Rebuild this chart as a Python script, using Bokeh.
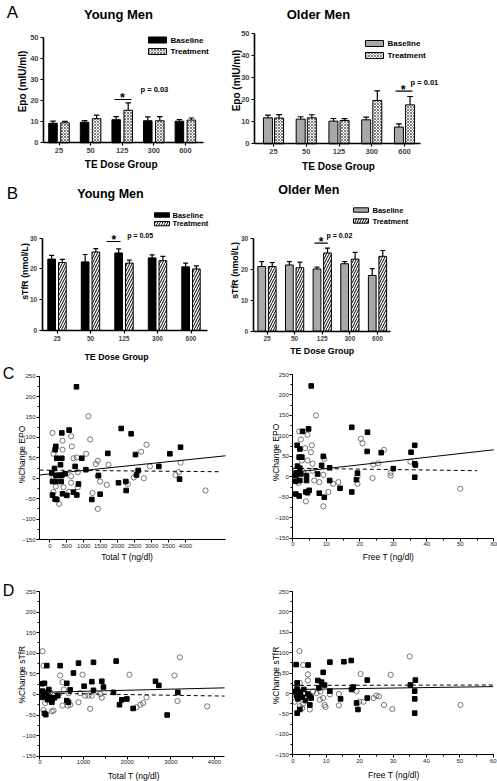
import numpy as np
from bokeh.plotting import figure
from bokeh.layouts import column, row
from bokeh.models import Range1d, FixedTicker, Label
from bokeh.embed import file_html
from bokeh.resources import INLINE

FONT = "Liberation Sans"

# ---------------- data ----------------
doses = ["25", "50", "125", "300", "600"]

epo_young_base = [9.3, 9.8, 11.0, 10.5, 10.3]
epo_young_base_err = [1.0, 0.8, 1.5, 1.8, 0.8]
epo_young_trt = [9.5, 11.5, 15.5, 10.5, 10.8]
epo_young_trt_err = [0.7, 1.7, 3.5, 2.0, 1.0]

epo_old_base = [11.8, 11.2, 10.3, 10.9, 7.6]
epo_old_base_err = [1.2, 1.1, 1.2, 1.2, 1.5]
epo_old_trt = [11.7, 11.8, 10.6, 19.7, 17.7]
epo_old_trt_err = [1.6, 1.4, 0.8, 4.4, 3.8]

stfr_young_base = [23.2, 22.3, 25.2, 23.6, 20.7]
stfr_young_base_err = [1.2, 2.4, 1.3, 1.0, 1.2]
stfr_young_trt = [22.1, 25.5, 21.9, 22.7, 20.0]
stfr_young_trt_err = [1.0, 1.1, 1.0, 1.4, 1.0]

stfr_old_base = [21.0, 21.5, 20.2, 21.9, 18.1]
stfr_old_base_err = [1.6, 1.1, 0.6, 0.7, 2.2]
stfr_old_trt = [21.0, 20.6, 25.4, 23.4, 24.3]
stfr_old_trt_err = [1.3, 1.8, 1.6, 2.2, 1.9]

# C: %change EPO vs Total T
ce_tot_sq_x = [786, 570, 354, 177, 157, 206, 354, 944, 1710, 315, 747, 138, 1062, 59, 177, 275, 354, 452, 1435,
               79, 177, 334, 845, 2025, 2241, 2251, 79, 157, 206, 374, 501, 698, 796, 1484, 1239, 2104, 2398,
               2526, 2605, 2556, 3214, 3539, 3853, 3824]
ce_tot_sq_y = [224, 118, 111, 78, 70, 49, 49, 49, 61, 33, 29, 24, 21, 13, 7, 7, 7, 11, 7,
               -8, -8, -8, -14, -11, -8, -30, -41, -51, -52, -38, -42, -34, -41, -39, -52, 122, 109,
               58, 19, 8, 29, 60, 76, -2]
ce_tot_ci_x = [79, 374, 629, 1140, 1189, 374, 649, 108, 698, 796, 1071, 1416, 1357, 1730, 826, 629, 1416, 108,
               629, 1484, 1681, 177, 403, 826, 108, 570, 1258, 275, 1416, 2851, 2693, 2949, 2477, 2772, 2300,
               3706, 3804, 3853, 4590]
ce_tot_ci_y = [111, 92, 103, 152, 95, 70, 78, 60, 49, 51, 60, 43, 35, 33, 15, 5, 5, 2,
               -11, -8, -16, -20, -22, -22, -34, -33, -36, -63, -75, 82, 65, 29, 2, 0, -14,
               8, 15, 38, -30]
ce_tot_fit_x = [-300, 5180]
ce_tot_fit_y = [8, 55]
ce_tot_fit2_x = [-300, 5030]
ce_tot_fit2_y = [20, 16]

# C: %change EPO vs Free T
ce_free_sq_x = [5.5, 4.7, 2.9, 1.3, 2.1, 1.9, 2.7, 9.1, 8.6, 11.0, 1.4, 2.1, 1.1, 2.4, 4.1, 7.4, 0.9, 2.1, 4.1,
                0.9, 11.0, 14.1, 4.9, 4.4, 3.9, 0.9, 1.9, 7.9, 9.4, 17.6, 17.6, 22.2, 22.3, 19.3, 19.0, 26.4,
                30.0, 35.3, 36.4, 36.4, 36.6, 36.4]
ce_free_sq_y = [222, 117, 111, 77, 68, 48, 48, 50, 28, 22, 26, 21, 10, 7, 3, 7, 3, -9, -9,
                -11, -9, -28, -33, -39, -37, -42, -47, -40, -50, -37, 121, 62, 109, 9, -7, 59,
                20, 60, 77, 32, 29, -1]
ce_free_ci_x = [6.9, 1.9, 4.4, 2.4, 3.7, 5.4, 5.7, 2.7, 4.4, 9.4, 5.9, 0.9, 3.1, 5.9, 9.1, 6.4, 7.9, 1.7,
                12.0, 13.6, 10.6, 3.9, 9.1, 20.3, 20.8, 23.8, 19.3, 19.3, 27.2, 24.0, 25.5, 29.2, 29.2,
                35.1, 50.0]
ce_free_ci_y = [150, 111, 103, 91, 70, 60, 77, 40, 40, 44, 32, 15, 13, 15, 5, -9, -13, -15,
                -17, -13, -37, -60, -72, 93, 82, -3, 1, -17, 66, 30, 33, 10, 3,
                37, -29]
ce_free_fit_x = [0, 60]
ce_free_fit_y = [11, 66]
ce_free_fit2_x = [0, 55]
ce_free_fit2_y = [21, 15]

# D: %change sTfR vs Total T
ds_tot_sq_x = [160, 466, 886, 1229, 1748, 771, 618, 1015, 1191, 1420, 1458, 46, 107, 695, 1229, 1687, 1878,
               1825, 1993, 107, 137, 618, 656, 61, 107, 160, 237, 275, 275, 61, 336, 183, 412, 2137, 2649,
               2726, 2916, 3160, 76, 206]
ds_tot_sq_y = [70, 70, 76, 78, 81, 52, 27, 20, 31, 32, 18, 26, 27, 11, 10, 5, -13,
               -25, -11, -46, -49, -15, -19, 8, 1, -3, -7, -13, -19, -7, -8, -13, -3, -34, 32,
               22, -50, 5, 5, 12]
ds_tot_ci_x = [61, 84, 466, 977, 519, 656, 924, 1038, 1115, 1191, 1382, 1420, 886, 1153, 519, 641, 695, 122,
               84, 275, 313, 183, 237, 2053, 2214, 2305, 2366, 2443, 3084, 3153, 3206, 3832, 550, 440]
ds_tot_ci_y = [105, 70, 46, 48, 30, 3, 3, -3, -3, -3, 1, -8, -19, -35, -27, -27, -25, -21,
               -38, -41, -39, 8, 5, 48, -31, -25, -21, -7, 46, -16, 90, -29, 12, 1]
ds_tot_fit_x = [0, 4230]
ds_tot_fit_y = [5, 16]
ds_tot_fit2_x = [0, 4230]
ds_tot_fit2_y = [3, -4]

# D: %change sTfR vs Free T
ds_free_sq_x = [1.0, 4.6, 11.1, 15.3, 17.5, 9.1, 7.5, 8.6, 9.5, 22.3, 7.8, 11.1, 17.6, 18.1, 35.2, 36.7, 36.5,
                36.5, 36.5, 14.3, 19.1, 19.5, 22.3, 5.1, 1.3, 2.1, 1.3, 1.3, 1.8, 2.3, 2.8, 1.1, 3.3, 4.5,
                5.1, 5.5, 3.8, 0.6, 1.5]
ds_free_sq_y = [71, 70, 77, 78, 81, 52, 32, 28, 21, 33, 14, 6, 10, 16, 21, 33, 6,
                -13, -48, -13, -23, -39, -11, -28, -48, -39, 26, 11, 3, -3, -9, -5, 10, -1,
                -7, -11, -17, 5, -13]
ds_free_ci_x = [2.0, 3.1, 4.5, 4.5, 2.1, 7.1, 8.3, 8.1, 9.1, 9.5, 9.8, 11.1, 13.8, 13.8, 5.1, 2.8, 2.1, 0.6,
                3.1, 6.1, 20.3, 19.1, 19.9, 21.2, 24.2, 25.0, 25.8, 27.3, 29.3, 29.8, 35.0, 50.2]
ds_free_ci_y = [104, 70, 47, 32, 26, 1, 5, -15, -11, -28, -33, -2, -1, -29, -39, -36, -31, -20,
                -25, 5, 48, 6, -20, -20, -11, -5, -7, -28, 46, -38, 91, -28]
ds_free_fit_x = [0, 60]
ds_free_fit_y = [10, 17]
ds_free_fit2_x = [0, 60]
ds_free_fit2_y = [20, 21]


# ---------------- helpers ----------------
def panel(box, axx, axy, xa, ya):
    """Frame covers the whole figure; both axes pinned at their positions."""
    x0, y0, x1, y1 = box

    def fx(px):
        return xa[1] + (px - xa[0]) * (xa[3] - xa[1]) / (xa[2] - xa[0])

    def fy(py):
        return ya[1] + (py - ya[0]) * (ya[3] - ya[1]) / (ya[2] - ya[0])

    p = figure(width=x1 - x0, height=y1 - y0, output_backend="svg", toolbar_location=None,
               x_range=Range1d(fx(x0), fx(x1)), y_range=Range1d(fy(y1), fy(y0)),
               min_border_left=0, min_border_right=0, min_border_top=0, min_border_bottom=0)
    p.outline_line_color = None
    p.grid.visible = False
    p.background_fill_color = "white"
    p.border_fill_color = "white"
    p.yaxis[0].fixed_location = fx(axx)
    p.xaxis[0].fixed_location = fy(axy)
    return p, fx, fy, fx(axx)


def txt(p, x, y, s, size, bold=False, align="left", baseline="middle", angle=0.0):
    p.add_layout(Label(x=x, y=y, text=s, text_font=FONT, text_font_size=f"{size}px",
                       text_font_style="bold" if bold else "normal", text_align=align,
                       text_baseline=baseline, text_color="black", angle=angle))


def titles(p, fx, fy, xt, yt, xlabel, ylabel, size, bold):
    txt(p, fx(xt[0]), fy(xt[1]), xlabel, size, bold=bold, align="center")
    txt(p, fx(yt[0]), fy(yt[1]), ylabel, size, bold=bold, align="center", angle=np.pi / 2)


def bar_axes(p, x0, xend, ymax, ystep, tick_fs):
    xa = p.xaxis[0]
    yx = p.yaxis[0]
    xa.ticker = FixedTicker(ticks=[1, 2, 3, 4, 5])
    xa.major_label_overrides = {i + 1: d for i, d in enumerate(doses)}
    xa.bounds = (x0, xend)
    yx.ticker = FixedTicker(ticks=list(range(0, ymax + 1, ystep)))
    yx.bounds = (0, ymax)
    for ax in (xa, yx):
        ax.axis_line_width = 1.6
        ax.major_tick_line_width = 1.2
        ax.major_tick_out = 3
        ax.major_tick_in = 0
        ax.minor_tick_line_color = None
        ax.major_label_text_font = FONT
        ax.major_label_text_font_style = "bold"
        ax.major_label_text_font_size = f"{tick_fs}px"
        ax.major_label_standoff = 2


def bars(p, base, base_err, trt, trt_err, off, w, base_color, hatch, hscale, hweight):
    xs = np.arange(1, len(doses) + 1)
    xb = xs - off
    xt = xs + off
    cap = w * 0.32
    for xx, v, e in ((xb, base, base_err), (xt, trt, trt_err)):
        v = np.asarray(v, dtype=float)
        top = v + np.asarray(e, dtype=float)
        p.segment(x0=xx, y0=v, x1=xx, y1=top, line_color="black", line_width=1.2)
        p.segment(x0=xx - cap, y0=top, x1=xx + cap, y1=top, line_color="black", line_width=1.2)
    p.vbar(x=xb, top=base, bottom=0, width=w, fill_color=base_color, line_color="black", line_width=1)
    p.vbar(x=xt, top=trt, bottom=0, width=w, fill_color="white", hatch_pattern=hatch, hatch_color="black",
           hatch_scale=hscale, hatch_weight=hweight, line_color="black", line_width=1)


def legend(p, fx, fy, bx0, bx1, rows, tx, fs, base_color, hatch, hscale, hweight):
    (a0, a1, ay), (b0, b1, by) = rows
    p.quad(left=fx(bx0), right=fx(bx1), top=fy(a0), bottom=fy(a1), fill_color=base_color,
           line_color="black", line_width=1)
    p.quad(left=fx(bx0), right=fx(bx1), top=fy(b0), bottom=fy(b1), fill_color="white",
           hatch_pattern=hatch, hatch_color="black", hatch_scale=hscale, hatch_weight=hweight,
           line_color="black", line_width=1)
    txt(p, fx(tx), fy(ay), "Baseline", fs, bold=True)
    txt(p, fx(tx), fy(by), "Treatment", fs, bold=True)


def sig(p, fx, fy, lx0, lx1, ly, sx, sy, tx, ty, s, fs):
    p.segment(x0=fx(lx0), y0=fy(ly), x1=fx(lx1), y1=fy(ly), line_color="black", line_width=1.2)
    txt(p, fx(sx), fy(sy), "*", fs + 5, bold=True, align="center")
    txt(p, fx(tx), fy(ty), s, fs, bold=True)


def sc_axes(p, x0, xend, xticks, xminor):
    xa = p.xaxis[0]
    yx = p.yaxis[0]
    xa.ticker = FixedTicker(ticks=xticks, minor_ticks=xminor)
    xa.bounds = (x0, xend)
    yx.ticker = FixedTicker(ticks=list(range(-150, 251, 50)), minor_ticks=list(range(-150, 251, 25)))
    yx.bounds = (-150, 250)
    for ax in (xa, yx):
        ax.axis_line_width = 1
        ax.major_tick_out = 3
        ax.major_tick_in = 0
        ax.minor_tick_out = 2
        ax.minor_tick_in = 0
        ax.major_label_text_font = FONT
        ax.major_label_text_font_size = "6px"
        ax.major_label_text_color = "#222222"
        ax.major_label_standoff = 1


def scatter_panel(p, sqx, sqy, cix, ciy, fx1, fy1, fx2, fy2):
    p.scatter(x=cix, y=ciy, marker="circle", size=5.2, fill_color=None, line_color="#555555", line_width=0.8)
    p.scatter(x=sqx, y=sqy, marker="square", size=4.6, fill_color="black", line_color="black")
    p.line(x=fx1, y=fy1, line_color="black", line_width=1)
    p.line(x=fx2, y=fy2, line_color="black", line_width=1, line_dash="4 3")


HATCH_A = "x"
HATCH_B = "/"

# ---------------- Panel A left ----------------
a1, fx, fy, x0 = panel((0, 0, 214, 178), 43, 142.3, (58.5, 1, 184.9, 5), (142.3, 0, 37.3, 50))
bars(a1, epo_young_base, epo_young_base_err, epo_young_trt, epo_young_trt_err, 0.19, 0.27, "black", HATCH_A, 3, 0.5)
bar_axes(a1, x0, fx(203), 50, 10, 7.5)
titles(a1, fx, fy, (120.7, 164), (21.7, 81), "TE Dose Group", "Epo (mIU/ml)", 10, True)
legend(a1, fx, fy, 148, 166, ((36.5, 42.5, 39.5), (48, 54, 51)), 170, 8, "black", HATCH_A, 3, 0.5)
sig(a1, fx, fy, 114, 131, 99, 122, 97, 140, 89, "p = 0.03", 7.5)
txt(a1, fx(118), fy(13.5), "Young Men", 13, bold=True, align="center")
txt(a1, fx(12), fy(12), "A", 17, align="center")

# ---------------- Panel A right ----------------
a2, fx, fy, x0 = panel((214, 0, 497, 178), 254, 143.3, (273, 1, 404, 5), (143.3, 0, 33.3, 50))
bars(a2, epo_old_base, epo_old_base_err, epo_old_trt, epo_old_trt_err, 0.17, 0.275, "#a8a8a8", HATCH_A, 3, 0.5)
bar_axes(a2, x0, fx(420), 50, 10, 7.5)
titles(a2, fx, fy, (338, 165.7), (236, 80), "TE Dose Group", "Epo (mIU/ml)", 10, True)
legend(a2, fx, fy, 365, 383, ((40, 46, 43), (52, 58, 55)), 387, 8, "#a8a8a8", HATCH_A, 3, 0.5)
sig(a2, fx, fy, 395, 412, 90.7, 402.7, 89, 410, 82, "p = 0.01", 7.5)
txt(a2, fx(318), fy(14), "Older Men", 13, bold=True, align="center")

# ---------------- Panel B left ----------------
b1, fx, fy, x0 = panel((0, 178, 212, 364), 41.7, 330, (56.5, 1, 190.5, 5), (330, 0, 237.7, 30))
bars(b1, stfr_young_base, stfr_young_base_err, stfr_young_trt, stfr_young_trt_err, 0.16, 0.23, "black", HATCH_B, 5, 1)
bar_axes(b1, x0, fx(206.7), 30, 10, 6.5)
titles(b1, fx, fy, (116, 356), (24, 271), "TE Dose Group", "sTfR (nmol/L)", 8.8, True)
legend(b1, fx, fy, 154, 169, ((212.3, 216.7, 214.5), (221, 225.3, 223.2)), 172, 7.5, "black", HATCH_B, 5, 1)
sig(b1, fx, fy, 106, 120, 241, 113.3, 239.5, 126.7, 234.5, "p = 0.05", 7)
txt(b1, fx(110), fy(193), "Young Men", 12.5, bold=True, align="center")
txt(b1, fx(12), fy(193), "B", 17, align="center")

# ---------------- Panel B right ----------------
b2, fx, fy, x0 = panel((212, 178, 497, 364), 252.7, 330.7, (266.5, 1, 377, 5), (330.7, 0, 238.3, 30))
bars(b2, stfr_old_base, stfr_old_base_err, stfr_old_trt, stfr_old_trt_err, 0.19, 0.28, "#a8a8a8", HATCH_B, 5, 1)
bar_axes(b2, x0, fx(390), 30, 10, 6.5)
titles(b2, fx, fy, (321.7, 350), (234, 270), "TE Dose Group", "sTfR (nmol/L)", 8.8, True)
legend(b2, fx, fy, 353, 368, ((207.3, 211.7, 209.5), (218.3, 222.7, 220.5)), 372, 7.5, "#a8a8a8", HATCH_B, 5, 1)
sig(b2, fx, fy, 314, 327.3, 242.7, 320.7, 241.5, 326, 235, "p = 0.02", 7)
txt(b2, fx(308.3), fy(189.3), "Older Men", 12.5, bold=True, align="center")

# ---------------- Panel C left ----------------
c1, fx, fy, x0 = panel((0, 364, 255, 568), 39, 539, (49.3, 0, 185, 4000), (375.7, 250, 539, -150))
scatter_panel(c1, ce_tot_sq_x, ce_tot_sq_y, ce_tot_ci_x, ce_tot_ci_y,
              ce_tot_fit_x, ce_tot_fit_y, ce_tot_fit2_x, ce_tot_fit2_y)
sc_axes(c1, x0, fx(225), list(range(0, 4001, 500)), [])
titles(c1, fx, fy, (126.7, 556), (21.7, 454), "Total T (ng/dl)", "%Change EPO", 8.5, False)
txt(c1, fx(8), fy(373), "C", 16, align="center")

# ---------------- Panel C right ----------------
c2, fx, fy, x0 = panel((255, 364, 497, 568), 292.3, 537.7, (292.3, 0, 493.3, 60), (374, 250, 537.7, -150))
scatter_panel(c2, ce_free_sq_x, ce_free_sq_y, ce_free_ci_x, ce_free_ci_y,
              ce_free_fit_x, ce_free_fit_y, ce_free_fit2_x, ce_free_fit2_y)
sc_axes(c2, x0, 60, list(range(0, 61, 10)), list(range(0, 61, 5)))
titles(c2, fx, fy, (388, 556.7), (275, 452), "Free T (ng/dl)", "%Change EPO", 8.5, False)

# ---------------- Panel D left ----------------
d1, fx, fy, x0 = panel((0, 568, 255, 781), 39.3, 755.7, (39.3, 0, 214, 4000), (591, 250, 755.7, -150))
scatter_panel(d1, ds_tot_sq_x, ds_tot_sq_y, ds_tot_ci_x, ds_tot_ci_y,
              ds_tot_fit_x, ds_tot_fit_y, ds_tot_fit2_x, ds_tot_fit2_y)
sc_axes(d1, x0, fx(224), list(range(0, 4001, 1000)), list(range(0, 4001, 500)))
titles(d1, fx, fy, (133.3, 775), (21.7, 673), "Total T (ng/dl)", "%Change  sTfR", 8.5, False)
txt(d1, fx(8), fy(590), "D", 16, align="center")

# ---------------- Panel D right ----------------
d2, fx, fy, x0 = panel((255, 568, 497, 781), 292.3, 754.3, (292.3, 0, 492.7, 60), (591, 250, 754.3, -150))
scatter_panel(d2, ds_free_sq_x, ds_free_sq_y, ds_free_ci_x, ds_free_ci_y,
              ds_free_fit_x, ds_free_fit_y, ds_free_fit2_x, ds_free_fit2_y)
sc_axes(d2, x0, 60, list(range(0, 61, 10)), list(range(0, 61, 5)))
titles(d2, fx, fy, (393.3, 774), (275, 675), "Free T (ng/dl)", "%Change sTfR", 8.5, False)

layout = column(row(a1, a2), row(b1, b2), row(c1, c2), row(d1, d2))
open("out.html", "w").write(file_html(layout, INLINE, "Epo and sTfR"))
